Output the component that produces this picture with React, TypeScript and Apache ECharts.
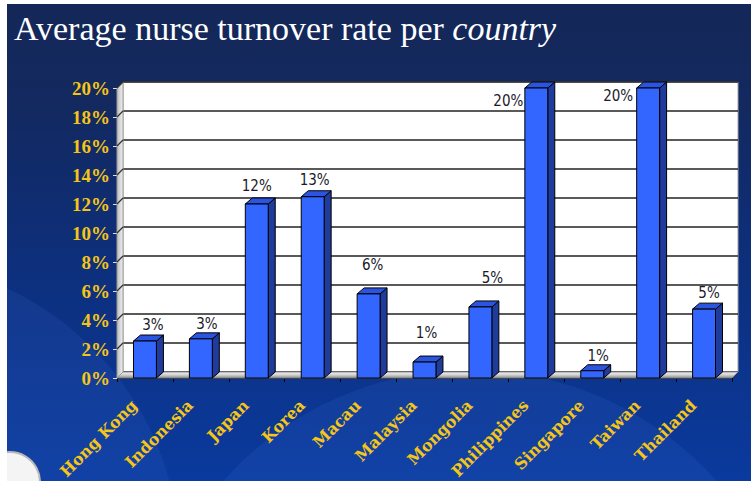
import React, { useEffect, useRef } from "react";
import * as echarts from "echarts";

const categories = [
  "Hong Kong", "Indonesia", "Japan", "Korea", "Macau", "Malaysia",
  "Mongolia", "Philippines", "Singapore", "Taiwan", "Thailand",
];
const turnover = [2.55, 2.7, 12.0, 12.5, 5.8, 1.1, 4.9, 20, 0.5, 20, 4.75];
const yTicks = [0, 2, 4, 6, 8, 10, 12, 14, 16, 18, 20];
const titleMain = "Average nurse turnover rate per ";
const titleItalic = "country";

// label placement relative to the top-centre of each bar's front face
const labelNudge: number[][] = [
  [8, -16], [6, -15], [0, -18], [2, -17], [4, -29], [2, -29],
  [12, -29], [-28, 13], [6, -15], [-30, 8], [5, -16],
];

const YELLOW = "#f5c518";
const DX = 7;
const DY = -6;

export default function App() {
  const ref = useRef<HTMLDivElement>(null);
  useEffect(() => {
    if (!ref.current) return;
    const chart = echarts.init(ref.current, null, { renderer: "svg" });

    const wallsItem = (params: any, api: any) => {
      const cs = params.coordSys;
      const x0 = cs.x;
      const x1 = cs.x + cs.width;
      const yb = cs.y + cs.height;
      const yt = cs.y;
      const children: any[] = [];
      children.push({
        type: "polygon",
        shape: { points: [[x0, yb], [x1, yb], [x1 + 6, yb - 6], [x0 + 6, yb - 6]] },
        style: {
          fill: new echarts.graphic.LinearGradient(0, 0, 0, 1, [
            { offset: 0, color: "#f4f4f4" },
            { offset: 0.5, color: "#d0d0d0" },
            { offset: 1, color: "#8c8c8c" },
          ]),
          stroke: "#888",
          lineWidth: 1,
        },
      });
      children.push({
        type: "polygon",
        shape: { points: [[x0, yb], [x0, yt], [x0 + 6, yt - 6], [x0 + 6, yb - 6]] },
        style: {
          fill: new echarts.graphic.LinearGradient(0, 0, 1, 0, [
            { offset: 0, color: "#bdbdbd" },
            { offset: 1, color: "#f2f2f2" },
          ]),
          stroke: "#9a9a9a",
          lineWidth: 1,
        },
      });
      yTicks.forEach((v) => {
        if (v === 0) return;
        const y = api.coord([0, v])[1];
        children.push({
          type: "line",
          shape: { x1: x0, y1: y, x2: x0 + 6, y2: y - 6 },
          style: { stroke: "#333", lineWidth: 1.2 },
        });
      });
      return { type: "group", children };
    };

    const barItem = (params: any, api: any) => {
      const i = api.value(0);
      const v = api.value(1);
      const top = api.coord([i, v]);
      const base = api.coord([i, 0]);
      const bw = api.size([1, 0])[0] * 0.41;
      const xl = top[0] - bw / 2;
      const xr = top[0] + bw / 2;
      const yt = top[1];
      const yb = base[1];
      const nudge = labelNudge[params.dataIndex] || [5, -16];
      return {
        type: "group",
        children: [
          {
            type: "polygon",
            shape: { points: [[xr, yt], [xr + DX, yt + DY], [xr + DX, yb + DY], [xr, yb]] },
            style: { fill: "#1f3b9c", stroke: "#000", lineWidth: 1 },
          },
          {
            type: "polygon",
            shape: { points: [[xl, yt], [xl + DX, yt + DY], [xr + DX, yt + DY], [xr, yt]] },
            style: { fill: "#2b55e0", stroke: "#000", lineWidth: 1 },
          },
          {
            type: "rect",
            shape: { x: xl, y: yt, width: bw, height: yb - yt },
            style: { fill: "#3366ff", stroke: "#000", lineWidth: 1 },
          },
          {
            type: "text",
            x: top[0] + nudge[0],
            y: yt + nudge[1],
            style: {
              text: Math.round(v) + "%",
              fill: "#1a1a2a",
              font: "15px 'DejaVu Sans Condensed', 'DejaVu Sans', sans-serif",
              align: "center",
              verticalAlign: "middle",
            },
          },
        ],
      };
    };

    const option: any = {
      animation: false,
      backgroundColor: "#ffffff",
      graphic: [
        {
          type: "rect",
          z: -20,
          shape: { x: 7, y: 4, width: 744, height: 477 },
          style: {
            fill: new echarts.graphic.LinearGradient(0, 0, 0, 1, [
              { offset: 0, color: "#142758" },
              { offset: 0.2, color: "#13295f" },
              { offset: 0.55, color: "#0d2f7c" },
              { offset: 1, color: "#0a3a9e" },
            ]),
          },
        },
        {
          type: "ellipse",
          z: -19,
          shape: { cx: 470, cy: 700, rx: 330, ry: 330 },
          style: { fill: "rgba(70,120,230,0.13)" },
        },
        {
          type: "ellipse",
          z: -19,
          shape: { cx: -120, cy: 560, rx: 300, ry: 300 },
          style: { fill: "rgba(70,120,230,0.12)" },
        },
        {
          type: "circle",
          z: -18,
          shape: { cx: 10, cy: 482, r: 30 },
          style: { fill: "#f4f4f4", stroke: "#b8b8b8", lineWidth: 2 },
        },
        {
          type: "rect",
          z: -17,
          shape: { x: 0, y: 0, width: 7, height: 481 },
          style: { fill: "#ffffff" },
        },
        {
          type: "text",
          z: 10,
          x: 14,
          y: 11,
          style: {
            text: "{a|" + titleMain + "}{b|" + titleItalic + "}",
            rich: {
              a: {
                fontFamily: "'Liberation Serif', serif",
                fontSize: 34,
                fill: "#ffffff",
                color: "#ffffff",
              },
              b: {
                fontFamily: "'Liberation Serif', serif",
                fontSize: 34,
                fontStyle: "italic",
                fill: "#ffffff",
                color: "#ffffff",
              },
            },
          },
        },
      ],
      grid: [
        {
          left: 117, top: 88, width: 615, height: 290, show: false,
          containLabel: false, outerBoundsMode: "none",
        },
        {
          left: 123, top: 82, width: 615, height: 290, show: true,
          containLabel: false, outerBoundsMode: "none",
          backgroundColor: "#ffffff", borderColor: "#a0a0a0", borderWidth: 1,
        },
      ],
      xAxis: [
        {
          gridIndex: 0,
          type: "category",
          data: categories,
          axisLine: { show: true, lineStyle: { color: "#000", width: 1 } },
          axisTick: { show: true, length: 4, lineStyle: { color: "#000" } },
          axisLabel: {
            interval: 0,
            rotate: 45,
            margin: 14,
            padding: [0, 15, 0, 0],
            color: YELLOW,
            fontFamily: "'DejaVu Serif', serif",
            fontWeight: "bold",
            fontSize: 16,
          },
        },
        { gridIndex: 1, type: "category", data: categories, show: false },
      ],
      yAxis: [
        {
          gridIndex: 0,
          type: "value",
          min: 0,
          max: 20,
          interval: 2,
          axisLine: { show: true, lineStyle: { color: "#b0b0b0", width: 1 } },
          axisTick: { show: true, length: 4, lineStyle: { color: "#e0e0e0" } },
          splitLine: { show: false },
          axisLabel: {
            formatter: "{value}%",
            margin: 7,
            color: YELLOW,
            fontFamily: "'Liberation Serif', serif",
            fontWeight: "bold",
            fontSize: 19,
          },
        },
        {
          gridIndex: 1,
          type: "value",
          min: 0,
          max: 20,
          interval: 2,
          axisLine: { show: false },
          axisTick: { show: false },
          axisLabel: { show: false },
          splitLine: { show: true, lineStyle: { color: "#222", width: 1.5 } },
        },
      ],
      series: [
        {
          type: "custom",
          xAxisIndex: 0,
          yAxisIndex: 0,
          z: 1,
          silent: true,
          data: [[0, 0]],
          renderItem: wallsItem,
        },
        {
          type: "custom",
          xAxisIndex: 0,
          yAxisIndex: 0,
          z: 3,
          data: categories.map((c, i) => [i, turnover[i]]),
          encode: { x: 0, y: 1 },
          renderItem: barItem,
        },
      ],
    };
    chart.setOption(option);
    return () => chart.dispose();
  }, []);
  return (
    <div
      ref={ref}
      style={{ position: "absolute", left: 0, top: 0, width: 751, height: 481 }}
    />
  );
}
